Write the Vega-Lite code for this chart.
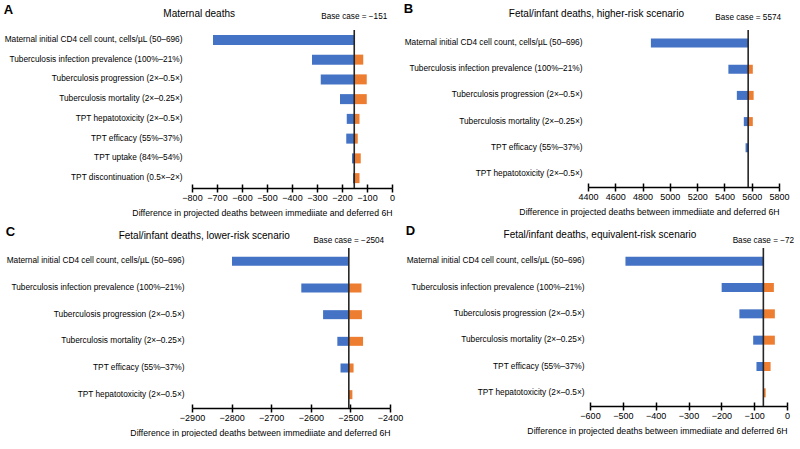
{
  "$schema": "https://vega.github.io/schema/vega-lite/v6.json",
  "padding": {"left": 3, "top": 2, "right": 0, "bottom": 0},
  "config": {
    "font": "Liberation Sans",
    "view": {"stroke": null},
    "title": {"color": "#000"},
    "axisX": {"domainColor": "#000", "domainWidth": 1.5, "tickColor": "#000", "tickWidth": 1.5, "tickSize": 4, "labelFontSize": 9, "labelColor": "#000", "labelPadding": 1, "labelOverlap": false, "titleFontSize": 8.7, "titleFontWeight": "normal", "titleColor": "#000", "titlePadding": 6, "titleAnchor": "end", "grid": false, "labelFlush": false},
    "axisY": {"domain": false, "ticks": false, "labelFontSize": 8.3, "labelColor": "#000", "labelPadding": 8, "labelLimit": 300, "grid": false}
  },
  "datasets": {
    "A": [
      {"param": "Maternal initial CD4 cell count, cells/µL (50–696)", "side": "lower", "value": -716, "base": -151},
      {"param": "Tuberculosis infection prevalence (100%–21%)", "side": "lower", "value": -320, "base": -151},
      {"param": "Tuberculosis infection prevalence (100%–21%)", "side": "upper", "value": -115, "base": -151},
      {"param": "Tuberculosis progression (2×–0.5×)", "side": "lower", "value": -285, "base": -151},
      {"param": "Tuberculosis progression (2×–0.5×)", "side": "upper", "value": -101, "base": -151},
      {"param": "Tuberculosis mortality (2×–0.25×)", "side": "lower", "value": -208, "base": -151},
      {"param": "Tuberculosis mortality (2×–0.25×)", "side": "upper", "value": -101, "base": -151},
      {"param": "TPT hepatotoxicity (2×–0.5×)", "side": "lower", "value": -181, "base": -151},
      {"param": "TPT hepatotoxicity (2×–0.5×)", "side": "upper", "value": -130, "base": -151},
      {"param": "TPT efficacy (55%–37%)", "side": "lower", "value": -183, "base": -151},
      {"param": "TPT efficacy (55%–37%)", "side": "upper", "value": -137, "base": -151},
      {"param": "TPT uptake (84%–54%)", "side": "lower", "value": -160, "base": -151},
      {"param": "TPT uptake (84%–54%)", "side": "upper", "value": -125, "base": -151},
      {"param": "TPT discontinuation (0.5×–2×)", "side": "lower", "value": -156, "base": -151},
      {"param": "TPT discontinuation (0.5×–2×)", "side": "upper", "value": -130, "base": -151}
    ],
    "Abase": [{"base": -151, "label": "Base case = −151"}],
    "B": [
      {"param": "Maternal initial CD4 cell count, cells/µL (50–696)", "side": "lower", "value": 4861, "base": 5574},
      {"param": "Tuberculosis infection prevalence (100%–21%)", "side": "lower", "value": 5429, "base": 5574},
      {"param": "Tuberculosis infection prevalence (100%–21%)", "side": "upper", "value": 5608, "base": 5574},
      {"param": "Tuberculosis progression (2×–0.5×)", "side": "lower", "value": 5491, "base": 5574},
      {"param": "Tuberculosis progression (2×–0.5×)", "side": "upper", "value": 5614, "base": 5574},
      {"param": "Tuberculosis mortality (2×–0.25×)", "side": "lower", "value": 5542, "base": 5574},
      {"param": "Tuberculosis mortality (2×–0.25×)", "side": "upper", "value": 5608, "base": 5574},
      {"param": "TPT efficacy (55%–37%)", "side": "lower", "value": 5555, "base": 5574}
    ],
    "Bbase": [{"base": 5574, "label": "Base case =  5574"}],
    "C": [
      {"param": "Maternal initial CD4 cell count, cells/µL (50–696)", "side": "lower", "value": -2799, "base": -2504},
      {"param": "Tuberculosis infection prevalence (100%–21%)", "side": "lower", "value": -2624, "base": -2504},
      {"param": "Tuberculosis infection prevalence (100%–21%)", "side": "upper", "value": -2472, "base": -2504},
      {"param": "Tuberculosis progression (2×–0.5×)", "side": "lower", "value": -2569, "base": -2504},
      {"param": "Tuberculosis progression (2×–0.5×)", "side": "upper", "value": -2471, "base": -2504},
      {"param": "Tuberculosis mortality (2×–0.25×)", "side": "lower", "value": -2533, "base": -2504},
      {"param": "Tuberculosis mortality (2×–0.25×)", "side": "upper", "value": -2468, "base": -2504},
      {"param": "TPT efficacy (55%–37%)", "side": "lower", "value": -2525, "base": -2504},
      {"param": "TPT efficacy (55%–37%)", "side": "upper", "value": -2492, "base": -2504},
      {"param": "TPT hepatotoxicity (2×–0.5×)", "side": "upper", "value": -2495, "base": -2504}
    ],
    "Cbase": [{"base": -2504, "label": "Base case = −2504"}],
    "D": [
      {"param": "Maternal initial CD4 cell count, cells/µL (50–696)", "side": "lower", "value": -492, "base": -72},
      {"param": "Tuberculosis infection prevalence (100%–21%)", "side": "lower", "value": -199, "base": -72},
      {"param": "Tuberculosis infection prevalence (100%–21%)", "side": "upper", "value": -40, "base": -72},
      {"param": "Tuberculosis progression (2×–0.5×)", "side": "lower", "value": -145, "base": -72},
      {"param": "Tuberculosis progression (2×–0.5×)", "side": "upper", "value": -37, "base": -72},
      {"param": "Tuberculosis mortality (2×–0.25×)", "side": "lower", "value": -103, "base": -72},
      {"param": "Tuberculosis mortality (2×–0.25×)", "side": "upper", "value": -37, "base": -72},
      {"param": "TPT efficacy (55%–37%)", "side": "lower", "value": -93, "base": -72},
      {"param": "TPT efficacy (55%–37%)", "side": "upper", "value": -50, "base": -72},
      {"param": "TPT hepatotoxicity (2×–0.5×)", "side": "upper", "value": -65, "base": -72}
    ],
    "Dbase": [{"base": -72, "label": "Base case = −72"}]
  },
  "vconcat": [
    {
      "spacing": 8,
      "hconcat": [
        {
          "title": {"text": "A", "anchor": "start", "frame": "bounds", "fontSize": 13, "fontWeight": "bold", "offset": -8},
          "vconcat": [{
            "width": 200, "height": 158,
            "title": {"text": "Maternal deaths", "anchor": "middle", "frame": "bounds", "fontSize": 10, "fontWeight": "normal", "offset": -7.3},
            "resolve": {"axis": {"x": "independent"}},
            "layer": [
              {"data": {"name": "A"}, "mark": {"type": "bar", "size": 10},
               "encoding": {
                 "y": {"field": "param", "type": "nominal", "title": null, "axis": {"labelPadding": 10},
                       "scale": {"domain": ["Maternal initial CD4 cell count, cells/µL (50–696)", "Tuberculosis infection prevalence (100%–21%)", "Tuberculosis progression (2×–0.5×)", "Tuberculosis mortality (2×–0.25×)", "TPT hepatotoxicity (2×–0.5×)", "TPT efficacy (55%–37%)", "TPT uptake (84%–54%)", "TPT discontinuation (0.5×–2×)"]}},
                 "x": {"field": "value", "type": "quantitative", "scale": {"domain": [-800, 0], "nice": false, "zero": false},
                       "axis": {"orient": "bottom", "values": [-800, -700, -600, -500, -400, -300, -200, -100, 0], "format": "d", "title": "Difference in projected deaths between immediiate and deferred 6H"}},
                 "x2": {"field": "base"},
                 "color": {"field": "side", "type": "nominal", "scale": {"domain": ["lower", "upper"], "range": ["#4472C4", "#ED7D31"]}, "legend": null}
               }},
              {"data": {"name": "Abase"}, "mark": {"type": "rule", "color": "#262626", "strokeWidth": 1.6},
               "encoding": {"x": {"field": "base", "type": "quantitative", "scale": {"domain": [-800, 0], "nice": false, "zero": false},
                                  "axis": {"orient": "bottom", "values": [-800, -700, -600, -500, -400, -300, -200, -100, 0], "tickSize": -4, "labels": false, "domain": false, "title": null}}}},
              {"data": {"name": "Abase"}, "mark": {"type": "text", "fontSize": 8.2, "dy": -23},
               "encoding": {"x": {"field": "base", "type": "quantitative", "scale": {"domain": [-800, 0], "nice": false, "zero": false}, "axis": null},
                            "y": {"datum": "Maternal initial CD4 cell count, cells/µL (50–696)", "type": "nominal"},
                            "text": {"field": "label"}}}
            ]
          }]
        },
        {
          "title": {"text": "B", "anchor": "start", "frame": "bounds", "fontSize": 13, "fontWeight": "bold", "offset": -7},
          "vconcat": [{
            "width": 191, "height": 157,
            "title": {"text": "Fetal/infant deaths, higher-risk scenario", "anchor": "middle", "frame": "bounds", "fontSize": 10, "fontWeight": "normal", "offset": -5.5},
            "resolve": {"axis": {"x": "independent"}},
            "layer": [
              {"data": {"name": "B"}, "mark": {"type": "bar", "size": 9},
               "encoding": {
                 "y": {"field": "param", "type": "nominal", "title": null, "axis": {"labelPadding": 6},
                       "scale": {"domain": ["Maternal initial CD4 cell count, cells/µL (50–696)", "Tuberculosis infection prevalence (100%–21%)", "Tuberculosis progression (2×–0.5×)", "Tuberculosis mortality (2×–0.25×)", "TPT efficacy (55%–37%)", "TPT hepatotoxicity (2×–0.5×)"]}},
                 "x": {"field": "value", "type": "quantitative", "scale": {"domain": [4400, 5800], "nice": false, "zero": false},
                       "axis": {"orient": "bottom", "values": [4400, 4600, 4800, 5000, 5200, 5400, 5600, 5800], "format": "d", "title": "Difference in projected deaths between immediiate and deferred 6H"}},
                 "x2": {"field": "base"},
                 "color": {"field": "side", "type": "nominal", "scale": {"domain": ["lower", "upper"], "range": ["#4472C4", "#ED7D31"]}, "legend": null}
               }},
              {"data": {"name": "Bbase"}, "mark": {"type": "rule", "color": "#262626", "strokeWidth": 1.6},
               "encoding": {"x": {"field": "base", "type": "quantitative", "scale": {"domain": [4400, 5800], "nice": false, "zero": false},
                                  "axis": {"orient": "bottom", "values": [4400, 4600, 4800, 5000, 5200, 5400, 5600, 5800], "tickSize": -4, "labels": false, "domain": false, "title": null}}}},
              {"data": {"name": "Bbase"}, "mark": {"type": "text", "fontSize": 8.2, "dy": -25},
               "encoding": {"x": {"field": "base", "type": "quantitative", "scale": {"domain": [4400, 5800], "nice": false, "zero": false}, "axis": null},
                            "y": {"datum": "Maternal initial CD4 cell count, cells/µL (50–696)", "type": "nominal"},
                            "text": {"field": "label"}}}
            ]
          }]
        }
      ]
    },
    {
      "spacing": 2,
      "hconcat": [
        {
          "title": {"text": "C", "anchor": "start", "frame": "bounds", "fontSize": 13, "fontWeight": "bold", "offset": -8},
          "vconcat": [{
            "width": 198, "height": 160,
            "title": {"text": "Fetal/infant deaths, lower-risk scenario", "anchor": "middle", "frame": "bounds", "fontSize": 10, "fontWeight": "normal", "offset": -4.3},
            "resolve": {"axis": {"x": "independent"}},
            "layer": [
              {"data": {"name": "C"}, "mark": {"type": "bar", "size": 9},
               "encoding": {
                 "y": {"field": "param", "type": "nominal", "title": null,
                       "scale": {"domain": ["Maternal initial CD4 cell count, cells/µL (50–696)", "Tuberculosis infection prevalence (100%–21%)", "Tuberculosis progression (2×–0.5×)", "Tuberculosis mortality (2×–0.25×)", "TPT efficacy (55%–37%)", "TPT hepatotoxicity (2×–0.5×)"]}},
                 "x": {"field": "value", "type": "quantitative", "scale": {"domain": [-2900, -2400], "nice": false, "zero": false},
                       "axis": {"orient": "bottom", "values": [-2900, -2800, -2700, -2600, -2500, -2400], "format": "d", "title": "Difference in projected deaths between immediiate and deferred 6H"}},
                 "x2": {"field": "base"},
                 "color": {"field": "side", "type": "nominal", "scale": {"domain": ["lower", "upper"], "range": ["#4472C4", "#ED7D31"]}, "legend": null}
               }},
              {"data": {"name": "Cbase"}, "mark": {"type": "rule", "color": "#262626", "strokeWidth": 1.6},
               "encoding": {"x": {"field": "base", "type": "quantitative", "scale": {"domain": [-2900, -2400], "nice": false, "zero": false},
                                  "axis": {"orient": "bottom", "values": [-2900, -2800, -2700, -2600, -2500, -2400], "tickSize": -4, "labels": false, "domain": false, "title": null}}}},
              {"data": {"name": "Cbase"}, "mark": {"type": "text", "fontSize": 8.2, "dy": -20},
               "encoding": {"x": {"field": "base", "type": "quantitative", "scale": {"domain": [-2900, -2400], "nice": false, "zero": false}, "axis": null},
                            "y": {"datum": "Maternal initial CD4 cell count, cells/µL (50–696)", "type": "nominal"},
                            "text": {"field": "label"}}}
            ]
          }]
        },
        {
          "title": {"text": "D", "anchor": "start", "frame": "bounds", "fontSize": 13, "fontWeight": "bold", "offset": -8},
          "vconcat": [{
            "width": 197, "height": 158,
            "title": {"text": "Fetal/infant deaths, equivalent-risk scenario", "anchor": "middle", "frame": "bounds", "fontSize": 10, "fontWeight": "normal", "offset": -4.3},
            "resolve": {"axis": {"x": "independent"}},
            "layer": [
              {"data": {"name": "D"}, "mark": {"type": "bar", "size": 9},
               "encoding": {
                 "y": {"field": "param", "type": "nominal", "title": null, "axis": {"labelPadding": 6},
                       "scale": {"domain": ["Maternal initial CD4 cell count, cells/µL (50–696)", "Tuberculosis infection prevalence (100%–21%)", "Tuberculosis progression (2×–0.5×)", "Tuberculosis mortality (2×–0.25×)", "TPT efficacy (55%–37%)", "TPT hepatotoxicity (2×–0.5×)"]}},
                 "x": {"field": "value", "type": "quantitative", "scale": {"domain": [-600, 0], "nice": false, "zero": false},
                       "axis": {"orient": "bottom", "values": [-600, -500, -400, -300, -200, -100, 0], "format": "d", "title": "Difference in projected deaths between immediiate and deferred 6H"}},
                 "x2": {"field": "base"},
                 "color": {"field": "side", "type": "nominal", "scale": {"domain": ["lower", "upper"], "range": ["#4472C4", "#ED7D31"]}, "legend": null}
               }},
              {"data": {"name": "Dbase"}, "mark": {"type": "rule", "color": "#262626", "strokeWidth": 1.6},
               "encoding": {"x": {"field": "base", "type": "quantitative", "scale": {"domain": [-600, 0], "nice": false, "zero": false},
                                  "axis": {"orient": "bottom", "values": [-600, -500, -400, -300, -200, -100, 0], "tickSize": -4, "labels": false, "domain": false, "title": null}}}},
              {"data": {"name": "Dbase"}, "mark": {"type": "text", "fontSize": 8.2, "dy": -20},
               "encoding": {"x": {"field": "base", "type": "quantitative", "scale": {"domain": [-600, 0], "nice": false, "zero": false}, "axis": null},
                            "y": {"datum": "Maternal initial CD4 cell count, cells/µL (50–696)", "type": "nominal"},
                            "text": {"field": "label"}}}
            ]
          }]
        }
      ]
    }
  ],
  "spacing": 8
}
